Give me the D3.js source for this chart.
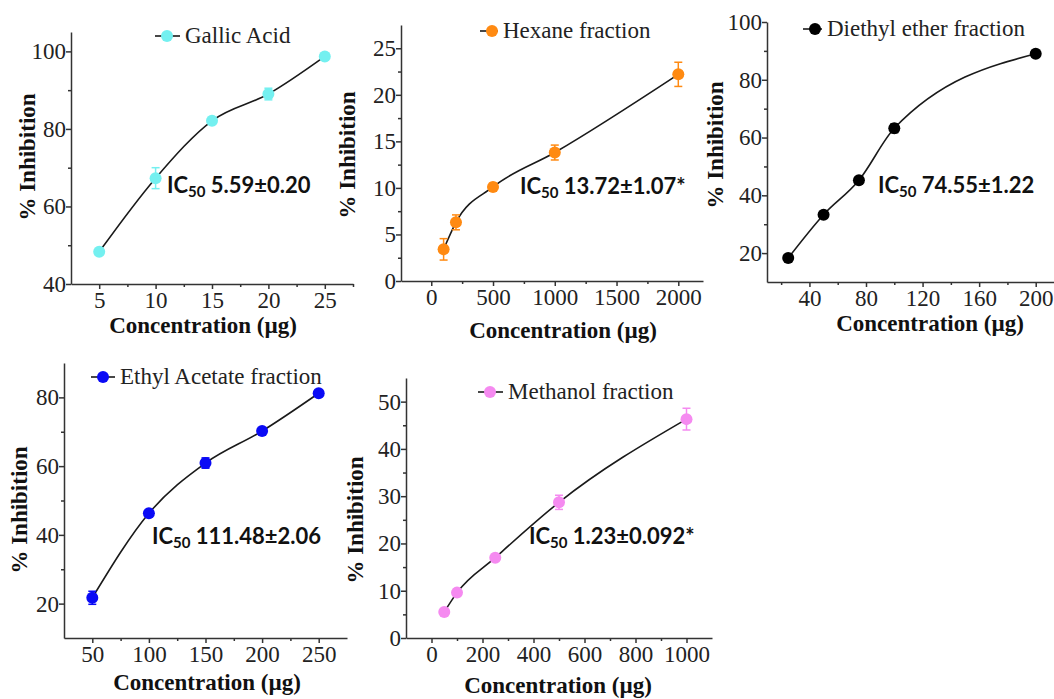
<!DOCTYPE html>
<html>
<head>
<meta charset="utf-8">
<script src="https://cdn.jsdelivr.net/npm/d3@7/dist/d3.min.js"></script>
<style>
  html, body { margin: 0; padding: 0; background: #fff; }
  svg { display: block; }
  .axis path, .axis line { stroke: #333; stroke-width: 1.5px; }
  .minor path { display: none; }
  .minor text { display: none; }
</style>
</head>
<body>
<svg id="chart" width="1054" height="699"></svg>
<script>
// ---- Gallic acid ----
const gallicConc  = [5, 10, 15, 20, 25];
const gallicInhib = [48.3, 67.3, 82.1, 89.0, 98.7];
const gallicErr   = [0.6, 2.7, 0.8, 1.5, 0.7];
const gallicXTicks = [5, 10, 15, 20, 25];
const gallicYTicks = [40, 60, 80, 100];
const gallicIC50 = "5.59\u00b10.20";

// ---- Hexane fraction ----
const hexaneConc  = [100, 200, 500, 1000, 2000];
const hexaneInhib = [3.4, 6.3, 10.1, 13.8, 22.2];
const hexaneErr   = [1.15, 0.8, 0.4, 0.8, 1.3];
const hexaneXTicks = [0, 500, 1000, 1500, 2000];
const hexaneYTicks = [0, 5, 10, 15, 20, 25];
const hexaneIC50 = "13.72\u00b11.07*";

// ---- Diethyl ether fraction ----
const etherConc  = [25, 50, 75, 100, 200];
const etherInhib = [18.3, 33.3, 45.2, 63.2, 89.0];
const etherErr   = [0.8, 1.0, 1.0, 1.5, 1.0];
const etherXTicks = [40, 80, 120, 160, 200];
const etherYTicks = [20, 40, 60, 80, 100];
const etherIC50 = "74.55\u00b11.22";

// ---- Ethyl acetate fraction ----
const ethylConc  = [50, 100, 150, 200, 250];
const ethylInhib = [21.7, 46.3, 60.9, 70.2, 81.2];
const ethylErr   = [1.9, 0.8, 1.5, 0.8, 0.8];
const ethylXTicks = [50, 100, 150, 200, 250];
const ethylYTicks = [20, 40, 60, 80];
const ethylIC50 = "111.48\u00b12.06";

// ---- Methanol fraction ----
const methanolConc  = [50, 100, 250, 500, 1000];
const methanolInhib = [5.5, 9.6, 17.0, 28.7, 46.3];
const methanolErr   = [0.6, 0.8, 0.5, 1.5, 2.3];
const methanolXTicks = [0, 200, 400, 600, 800, 1000];
const methanolYTicks = [0, 10, 20, 30, 40, 50];
const methanolIC50 = "1.23\u00b10.092*";

const seriesNames = ["Gallic Acid", "Hexane fraction", "Diethyl ether fraction", "Ethyl Acetate fraction", "Methanol fraction"];
const seriesColors = ["#74F0F0", "#FF8A12", "#000000", "#0A0AF5", "#F58AF0"];

const SERIF = "'Liberation Serif', 'Times New Roman', serif";
const SANS = "Lato, 'Liberation Sans', sans-serif";

const svg = d3.select("#chart");

// Panel frames, domains, minor ticks and text placement
const panels = [
  { name: seriesNames[0], color: seriesColors[0], x: gallicConc, y: gallicInhib, e: gallicErr,
    xTicks: gallicXTicks, yTicks: gallicYTicks, ic: gallicIC50,
    xDom: [2.5, 27.5], yDom: [40, 105], frame: [71, 353, 32, 284],
    xMinor: [7.5, 12.5, 17.5, 22.5, 27.5], yMinor: [50, 70, 90],
    leg: [167, 36, 18], icPos: [167, 193], yTitle: [27, 157], xTitle: [203, 333] },
  { name: seriesNames[1], color: seriesColors[1], x: hexaneConc, y: hexaneInhib, e: hexaneErr,
    xTicks: hexaneXTicks, yTicks: hexaneYTicks, ic: hexaneIC50,
    xDom: [-245, 2200], yDom: [0, 27.5], frame: [401, 703, 25, 281],
    xMinor: [250, 750, 1250, 1750], yMinor: [2.5, 7.5, 12.5, 17.5, 22.5],
    leg: [492, 31, 11], icPos: [520, 194], yTitle: [347, 155], xTitle: [563, 338] },
  { name: seriesNames[2], color: seriesColors[2], x: etherConc, y: etherInhib, e: etherErr,
    xTicks: etherXTicks, yTicks: etherYTicks, ic: etherIC50,
    xDom: [10, 220], yDom: [10, 100], frame: [767, 1064, 22, 282],
    xMinor: [20, 60, 100, 140, 180], yMinor: [30, 50, 70, 90],
    leg: [815, 29, 12], icPos: [878, 193], yTitle: [715, 145], xTitle: [930, 331] },
  { name: seriesNames[3], color: seriesColors[3], x: ethylConc, y: ethylInhib, e: ethylErr,
    xTicks: ethylXTicks, yTicks: ethylYTicks, ic: ethylIC50,
    xDom: [25, 275], yDom: [10, 90], frame: [64, 347, 363, 638],
    xMinor: [75, 125, 175, 225], yMinor: [30, 50, 70],
    leg: [103, 377, 17], icPos: [152, 544], yTitle: [19, 510], xTitle: [207, 690] },
  { name: seriesNames[4], color: seriesColors[4], x: methanolConc, y: methanolInhib, e: methanolErr,
    xTicks: methanolXTicks, yTicks: methanolYTicks, ic: methanolIC50,
    xDom: [-100, 1100], yDom: [0, 55], frame: [406, 712, 378, 638],
    xMinor: [100, 300, 500, 700, 900], yMinor: [5, 15, 25, 35, 45],
    leg: [490, 392, 18], icPos: [529, 544], yTitle: [355, 520], xTitle: [558, 693] }
];

function styleTicks(sel) {
  sel.attr("font-family", null).attr("font-size", null);
  sel.selectAll("text")
    .attr("font-family", SERIF).attr("font-size", 23).attr("fill", "#222");
}

panels.forEach(p => {
  const [x0, x1, y0, y1] = p.frame;
  const xs = d3.scaleLinear().domain(p.xDom).range([x0, x1]);
  const ys = d3.scaleLinear().domain(p.yDom).range([y1, y0]);
  const g = svg.append("g");

  // minor ticks
  g.append("g").attr("class", "axis minor").attr("transform", `translate(0,${y1})`)
    .call(d3.axisBottom(xs).tickValues(p.xMinor).tickSize(3).tickSizeOuter(0));
  g.append("g").attr("class", "axis minor").attr("transform", `translate(${x0},0)`)
    .call(d3.axisLeft(ys).tickValues(p.yMinor).tickSize(3).tickSizeOuter(0));

  // major axes
  g.append("g").attr("class", "axis").attr("transform", `translate(0,${y1})`)
    .call(d3.axisBottom(xs).tickValues(p.xTicks).tickSize(5).tickSizeOuter(0).tickPadding(3).tickFormat(d3.format("d")))
    .call(styleTicks);
  g.append("g").attr("class", "axis").attr("transform", `translate(${x0},0)`)
    .call(d3.axisLeft(ys).tickValues(p.yTicks).tickSize(5).tickSizeOuter(0).tickPadding(0).tickFormat(d3.format("d")))
    .call(styleTicks);

  // axis titles
  g.append("text")
    .attr("font-family", SERIF).attr("font-weight", "bold").attr("font-size", 23).attr("fill", "#111")
    .attr("transform", `translate(${p.yTitle[0]},${p.yTitle[1]}) rotate(-90)`)
    .attr("text-anchor", "middle").attr("dy", "0.35em").text("% Inhibition");
  g.append("text")
    .attr("font-family", SERIF).attr("font-weight", "bold").attr("font-size", 23).attr("fill", "#111")
    .attr("x", p.xTitle[0]).attr("y", p.xTitle[1]).attr("text-anchor", "middle")
    .text("Concentration (\u00b5g)");

  const pts = p.x.map((c, i) => ({ c, v: p.y[i], e: p.e[i] }));

  // fitted curve
  g.append("path")
    .attr("d", d3.line().x(d => xs(d.c)).y(d => ys(d.v)).curve(d3.curveMonotoneX)(pts))
    .attr("fill", "none").attr("stroke", "#1a1a1a").attr("stroke-width", 1.6);

  // error bars
  const eb = g.append("g").attr("stroke", p.color).attr("stroke-width", 1.5);
  pts.forEach(d => {
    const cx = xs(d.c), ya = ys(d.v - d.e), yb = ys(d.v + d.e);
    eb.append("line").attr("x1", cx).attr("x2", cx).attr("y1", ya).attr("y2", yb);
    eb.append("line").attr("x1", cx - 4).attr("x2", cx + 4).attr("y1", ya).attr("y2", ya);
    eb.append("line").attr("x1", cx - 4).attr("x2", cx + 4).attr("y1", yb).attr("y2", yb);
  });

  // markers
  g.selectAll("circle.pt").data(pts).join("circle").attr("class", "pt")
    .attr("cx", d => xs(d.c)).attr("cy", d => ys(d.v)).attr("r", 6).attr("fill", p.color);

  // legend
  const [lx, ly, gap] = p.leg;
  g.append("line").attr("x1", lx - 12).attr("x2", lx + gap - 5).attr("y1", ly).attr("y2", ly)
    .attr("stroke", "#1a1a1a").attr("stroke-width", 1.6);
  g.append("circle").attr("cx", lx).attr("cy", ly).attr("r", 6).attr("fill", p.color);
  g.append("text").attr("font-family", SERIF).attr("font-size", 23).attr("fill", "#222")
    .attr("x", lx + gap).attr("y", ly + 7).text(p.name);

  // IC50 annotation
  const t = g.append("text").attr("font-family", SANS).attr("font-weight", "bold")
    .attr("font-size", 22).attr("fill", "#111")
    .attr("x", p.icPos[0]).attr("y", p.icPos[1]);
  t.append("tspan").text("IC");
  t.append("tspan").attr("font-size", 15).attr("dy", 4).text("50");
  t.append("tspan").attr("dy", -4).text("\u00a0" + p.ic);
});
</script>
</body>
</html>
